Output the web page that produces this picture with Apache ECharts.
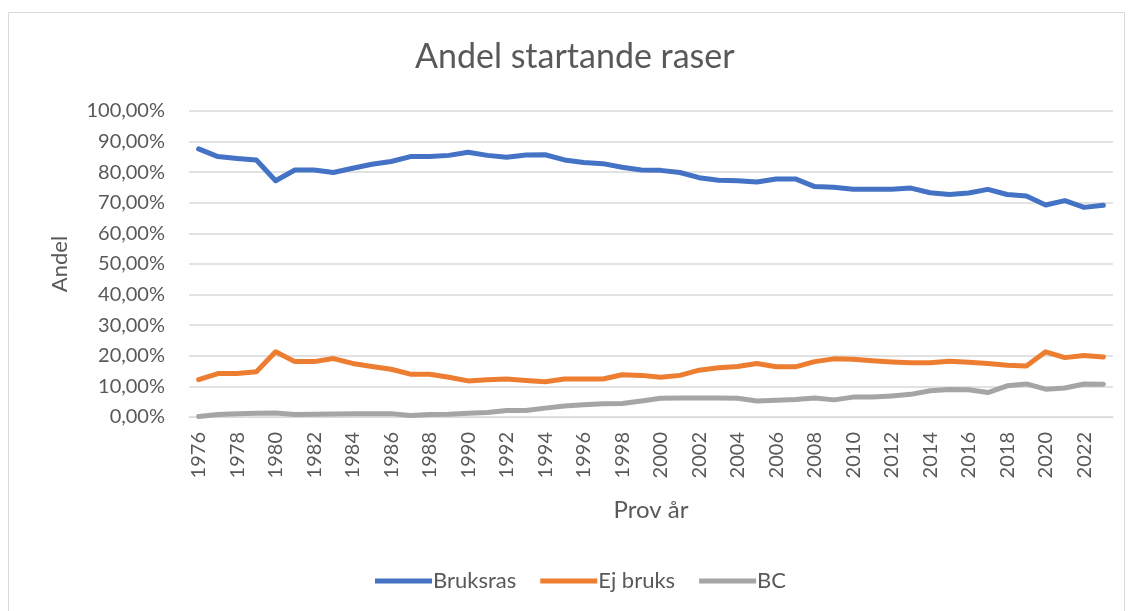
<!DOCTYPE html>
<html>
<head>
<meta charset="utf-8">
<script src="https://cdn.jsdelivr.net/npm/echarts@6/dist/echarts.min.js"></script>
<style>
  html, body { margin: 0; padding: 0; background: #fff; }
  #chart { width: 1132px; height: 611px; }
</style>
</head>
<body>
<div id="chart"></div>
<script>
var years = [];
for (var y = 1976; y <= 2023; y++) years.push(String(y));

// andelar i procent
var bruksras = [87.6, 85.1, 84.5, 84.0, 77.2, 80.7, 80.7, 79.9, 81.3, 82.6, 83.5, 85.1, 85.1, 85.5, 86.5, 85.5,
  84.9, 85.6, 85.7, 84.0, 83.2, 82.8, 81.6, 80.7, 80.6, 79.9, 78.2, 77.4, 77.2, 76.8, 77.8, 77.8,
  75.3, 75.1, 74.4, 74.4, 74.4, 74.8, 73.3, 72.7, 73.2, 74.4, 72.7, 72.2, 69.3, 70.7, 68.5, 69.2];
var ejBruks = [12.2, 14.2, 14.2, 14.8, 21.3, 18.1, 18.1, 19.1, 17.5, 16.5, 15.6, 14.0, 14.0, 13.0, 11.8, 12.2,
  12.4, 11.9, 11.5, 12.4, 12.4, 12.4, 13.8, 13.6, 13.0, 13.6, 15.3, 16.1, 16.5, 17.5, 16.4, 16.4,
  18.1, 19.0, 18.9, 18.4, 18.0, 17.7, 17.7, 18.2, 17.9, 17.5, 16.9, 16.7, 21.3, 19.4, 20.1, 19.6];
var bc = [0.2, 0.8, 1.1, 1.2, 1.3, 0.8, 0.9, 1.0, 1.1, 1.1, 1.1, 0.5, 0.8, 0.9, 1.2, 1.5,
  2.1, 2.1, 2.9, 3.6, 4.0, 4.3, 4.4, 5.2, 6.1, 6.2, 6.2, 6.2, 6.1, 5.2, 5.5, 5.7,
  6.2, 5.6, 6.5, 6.5, 6.9, 7.4, 8.6, 9.0, 8.9, 8.0, 10.2, 10.8, 9.1, 9.5, 10.8, 10.7];

var seriesNames = ['Bruksras', 'Ej bruks', 'BC'];
var seriesColors = ['#4472C4', '#ED7D31', '#A5A5A5'];

var txt = '#595959';
var font = 'Lato, "Open Sans", sans-serif';

function toShare(arr) {
  return arr.map(function (v) { return v / 100; });
}

var chart = echarts.init(document.getElementById('chart'));

var option = {
  backgroundColor: '#fff',
  animation: false,
  textStyle: { fontFamily: font },
  title: {
    text: 'Andel startande raser',
    left: 410,
    top: 35,
    textStyle: { fontFamily: font, fontSize: 34, fontWeight: 'normal', color: txt }
  },
  graphic: [{
    type: 'rect',
    shape: { x: 8.5, y: 12.5, width: 1116, height: 620 },
    style: { fill: 'none', stroke: '#d9d9d9', lineWidth: 1 },
    silent: true
  }],
  legend: {
    bottom: 14,
    left: 370,
    itemWidth: 57,
    itemHeight: 5,
    itemGap: 24,
    icon: 'rect',
    textStyle: { fontFamily: font, fontSize: 22, color: txt, padding: [0, 0, 0, -4] },
    data: seriesNames
  },
  grid: { left: 189, right: 19, top: 111, bottom: 194 },
  xAxis: {
    type: 'category',
    data: years,
    boundaryGap: true,
    name: 'Prov år',
    nameLocation: 'middle',
    nameGap: 81,
    nameTextStyle: { fontFamily: font, fontSize: 24, color: txt },
    axisLine: { lineStyle: { color: '#d9d9d9', width: 1 } },
    axisTick: { show: false },
    axisLabel: { interval: 1, rotate: 90, margin: 15, fontSize: 20, color: txt, fontFamily: font }
  },
  yAxis: {
    type: 'value',
    min: 0,
    max: 1,
    interval: 0.1,
    name: 'Andel',
    nameLocation: 'middle',
    nameGap: 118,
    nameTextStyle: { fontFamily: font, fontSize: 22, color: txt },
    axisLine: { show: false },
    axisTick: { show: false },
    splitLine: { lineStyle: { color: '#d9d9d9', width: 1.5 } },
    axisLabel: {
      margin: 24,
      fontSize: 20,
      color: txt,
      fontFamily: font,
      formatter: function (v) {
        return (v * 100).toFixed(2).replace('.', ',') + '%';
      }
    }
  },
  series: [bruksras, ejBruks, bc].map(function (d, i) {
    return {
      name: seriesNames[i],
      type: 'line',
      data: toShare(d),
      symbol: 'none',
      color: seriesColors[i],
      lineStyle: { width: 5, color: seriesColors[i], cap: 'round', join: 'round' },
      z: 3 - i
    };
  })
};

chart.setOption(option);
</script>
</body>
</html>
